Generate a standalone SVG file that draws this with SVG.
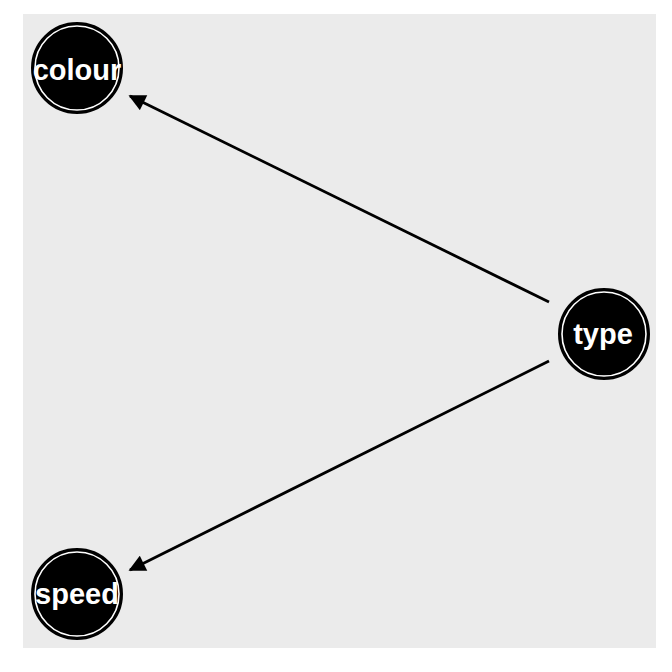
<svg xmlns="http://www.w3.org/2000/svg" width="672" height="672" viewBox="0 0 672 672">
<style>
.ring{fill:#000;stroke:#000;stroke-width:2}
.inner{fill:none;stroke:#fff;stroke-width:1.6}
.lbl{fill:#fff;font-family:"Liberation Sans",Arial,sans-serif;font-weight:bold;font-size:29px;text-anchor:middle}
.edge{stroke:#000;stroke-width:2.8;fill:none}
</style>
<defs>
<marker id="ah" viewBox="0 0 10 10" refX="9" refY="5" markerWidth="6.5" markerHeight="6" markerUnits="strokeWidth" orient="auto">
<path d="M0,0 L10,5 L0,10 z" fill="#000"/>
</marker>
</defs>
<rect width="672" height="672" fill="#fff"/>
<rect x="23" y="14" width="633" height="634" fill="#ebebeb"/>
<g id="edges">
<line class="edge" x1="549" y1="302" x2="130" y2="96" marker-end="url(#ah)"/>
<line class="edge" x1="549" y1="361" x2="130" y2="570" marker-end="url(#ah)"/>
</g>
<g id="colour">
<circle class="ring" cx="77" cy="68" r="45"/>
<circle class="inner" cx="77" cy="68" r="42"/>
<text class="lbl" x="77" y="80">colour</text>
</g>
<g id="type">
<circle class="ring" cx="604" cy="334" r="45"/>
<circle class="inner" cx="604" cy="334" r="42"/>
<text class="lbl" x="603" y="344">type</text>
</g>
<g id="speed">
<circle class="ring" cx="77" cy="594" r="45"/>
<circle class="inner" cx="77" cy="594" r="42"/>
<text class="lbl" x="77" y="604">speed</text>
</g>
</svg>
